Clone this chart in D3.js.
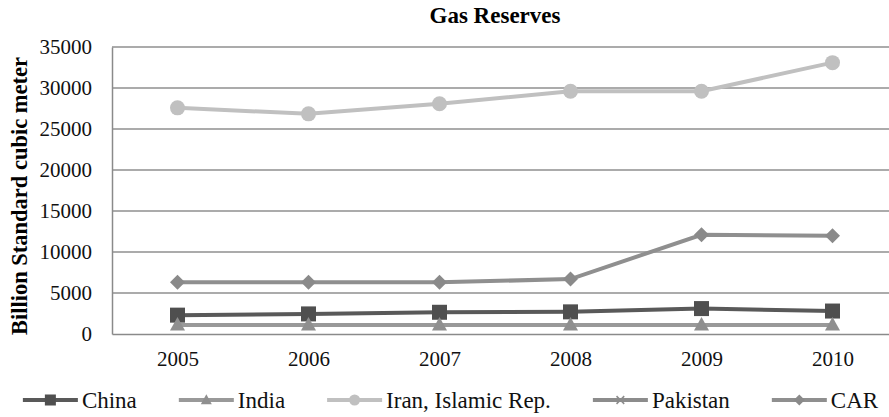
<!DOCTYPE html>
<html>
<head>
<meta charset="utf-8">
<script src="https://cdn.jsdelivr.net/npm/d3@7"></script>
<style>
  html, body { margin: 0; padding: 0; background: #fff; }
  svg { display: block; }
</style>
</head>
<body>
<svg id="chart" width="889" height="417"></svg>
<script>
// Chart data
const years = ["2005", "2006", "2007", "2008", "2009", "2010"];
const china = [2300, 2450, 2650, 2700, 3100, 2800];
const india = [1100, 1100, 1100, 1100, 1100, 1100];
const iran = [27580, 26850, 28080, 29610, 29610, 33090];
const pakistan = [null, null, null, null, null, null];
const car = [6300, 6300, 6300, 6700, 12100, 11990];
const yTicks = [0, 5000, 10000, 15000, 20000, 25000, 30000, 35000];

const FONT = "'Liberation Serif', 'Times New Roman', serif";

// Layout
const DIMENSIONS = {
  width: 889,
  height: 417,
  margin: {top: 47, right: -9, bottom: 83, left: 112}
};

const series = [
  {name: "China", values: china, color: "#595959", marker: "square"},
  {name: "India", values: india, color: "#999999", marker: "triangle"},
  {name: "Iran, Islamic Rep.", values: iran, color: "#c0c0c0", marker: "circle"},
  {name: "Pakistan", values: pakistan, color: "#8c8c8c", marker: "cross"},
  {name: "CAR", values: car, color: "#8f8f8f", marker: "diamond"}
];

const svg = d3.select("#chart").style("font-family", FONT);

const x = d3.scalePoint()
  .domain(years)
  .range([DIMENSIONS.margin.left, DIMENSIONS.width - DIMENSIONS.margin.right])
  .padding(0.5);

const y = d3.scaleLinear()
  .domain([0, 35000])
  .range([DIMENSIONS.height - DIMENSIONS.margin.bottom, DIMENSIONS.margin.top]);

// Gridlines
svg.append("g")
  .selectAll("line")
  .data(yTicks.filter(d => d > 0))
  .join("line")
  .attr("x1", DIMENSIONS.margin.left)
  .attr("x2", DIMENSIONS.width - DIMENSIONS.margin.right)
  .attr("y1", d => y(d))
  .attr("y2", d => y(d))
  .attr("stroke", "#8f8f8f")
  .attr("stroke-width", 1.5);

// Axes
const yAxis = svg.append("g")
  .attr("transform", `translate(${DIMENSIONS.margin.left},0)`)
  .call(d3.axisLeft(y).tickValues(yTicks).tickSize(0).tickPadding(20).tickFormat(d3.format("d")));
yAxis.select(".domain").attr("stroke", "#8a8a8a").attr("stroke-width", 1.5);
yAxis.selectAll("text")
  .style("font-family", FONT)
  .style("font-size", "21px")
  .attr("fill", "#111");

const xAxis = svg.append("g")
  .attr("transform", `translate(0,${y(0)})`)
  .call(d3.axisBottom(x).tickSize(0).tickPadding(17));
xAxis.select(".domain").attr("stroke", "#8a8a8a").attr("stroke-width", 1.5);
xAxis.selectAll("text")
  .style("font-family", FONT)
  .style("font-size", "21px")
  .attr("fill", "#111");

// Title and axis label
svg.append("text")
  .attr("x", 495)
  .attr("y", 23)
  .attr("text-anchor", "middle")
  .style("font-family", FONT)
  .style("font-weight", "bold")
  .style("font-size", "23px")
  .text("Gas Reserves");

svg.append("text")
  .attr("transform", "rotate(-90)")
  .attr("x", -196)
  .attr("y", 27)
  .attr("text-anchor", "middle")
  .style("font-family", FONT)
  .style("font-weight", "bold")
  .style("font-size", "22.5px")
  .text("Billion Standard cubic meter");

// Marker drawing
const drawMarker = (g, type, color, size) => {
  const s = size / 2;
  if (type === "square") {
    g.append("rect").attr("x", -s).attr("y", -s).attr("width", size).attr("height", size).attr("fill", color);
  } else if (type === "triangle") {
    g.append("path").attr("d", `M0,${-s * 1.05}L${s},${s * 0.75}L${-s},${s * 0.75}Z`).attr("fill", color);
  } else if (type === "circle") {
    g.append("circle").attr("r", s).attr("fill", color);
  } else if (type === "diamond") {
    g.append("path").attr("d", `M0,${-s}L${s},0L0,${s}L${-s},0Z`).attr("fill", color);
  } else if (type === "cross") {
    g.append("path").attr("d", `M${-s * 0.7},${-s * 0.7}L${s * 0.7},${s * 0.7}M${s * 0.7},${-s * 0.7}L${-s * 0.7},${s * 0.7}`)
      .attr("stroke", color).attr("stroke-width", 1.5).attr("fill", "none");
  }
};

const line = d3.line()
  .defined(d => d.v !== null)
  .x(d => x(d.year))
  .y(d => y(d.v));

const markerColors = {"China": "#4f4f4f", "India": "#8f8f8f", "Iran, Islamic Rep.": "#c0c0c0", "Pakistan": "#8c8c8c", "CAR": "#8a8a8a"};

series.forEach(s => {
  const pts = years.map((yr, i) => ({year: yr, v: s.values[i]}));
  svg.append("path")
    .datum(pts)
    .attr("d", line)
    .attr("fill", "none")
    .attr("stroke", s.color)
    .attr("stroke-width", 4);
  pts.filter(p => p.v !== null).forEach(p => {
    const g = svg.append("g").attr("transform", `translate(${x(p.year)},${y(p.v)})`);
    drawMarker(g, s.marker, markerColors[s.name], 15);
  });
});

// Legend
const legend = svg.append("g").attr("transform", "translate(0,400)");
const lineLen = 55;
const textGap = 4;
const itemGap = 42;
const items = series.map(s => {
  const g = legend.append("g");
  g.append("line")
    .attr("x1", 0).attr("x2", lineLen)
    .attr("stroke", s.color).attr("stroke-width", 4);
  const mg = g.append("g").attr("transform", `translate(${lineLen / 2},0)`);
  drawMarker(mg, s.marker, markerColors[s.name], 11);
  const t = g.append("text")
    .attr("x", lineLen + textGap)
    .attr("dy", "0.35em")
    .style("font-family", FONT)
    .style("font-size", "23px")
    .attr("fill", "#111")
    .text(s.name);
  return {g, w: lineLen + textGap + t.node().getComputedTextLength()};
});
const total = d3.sum(items, d => d.w) + itemGap * (items.length - 1);
// legend sits a little right of centre in the original
let cx = (DIMENSIONS.width - total) / 2 + 6;
items.forEach(it => {
  it.g.attr("transform", `translate(${cx},0)`);
  cx += it.w + itemGap;
});
</script>
</body>
</html>
